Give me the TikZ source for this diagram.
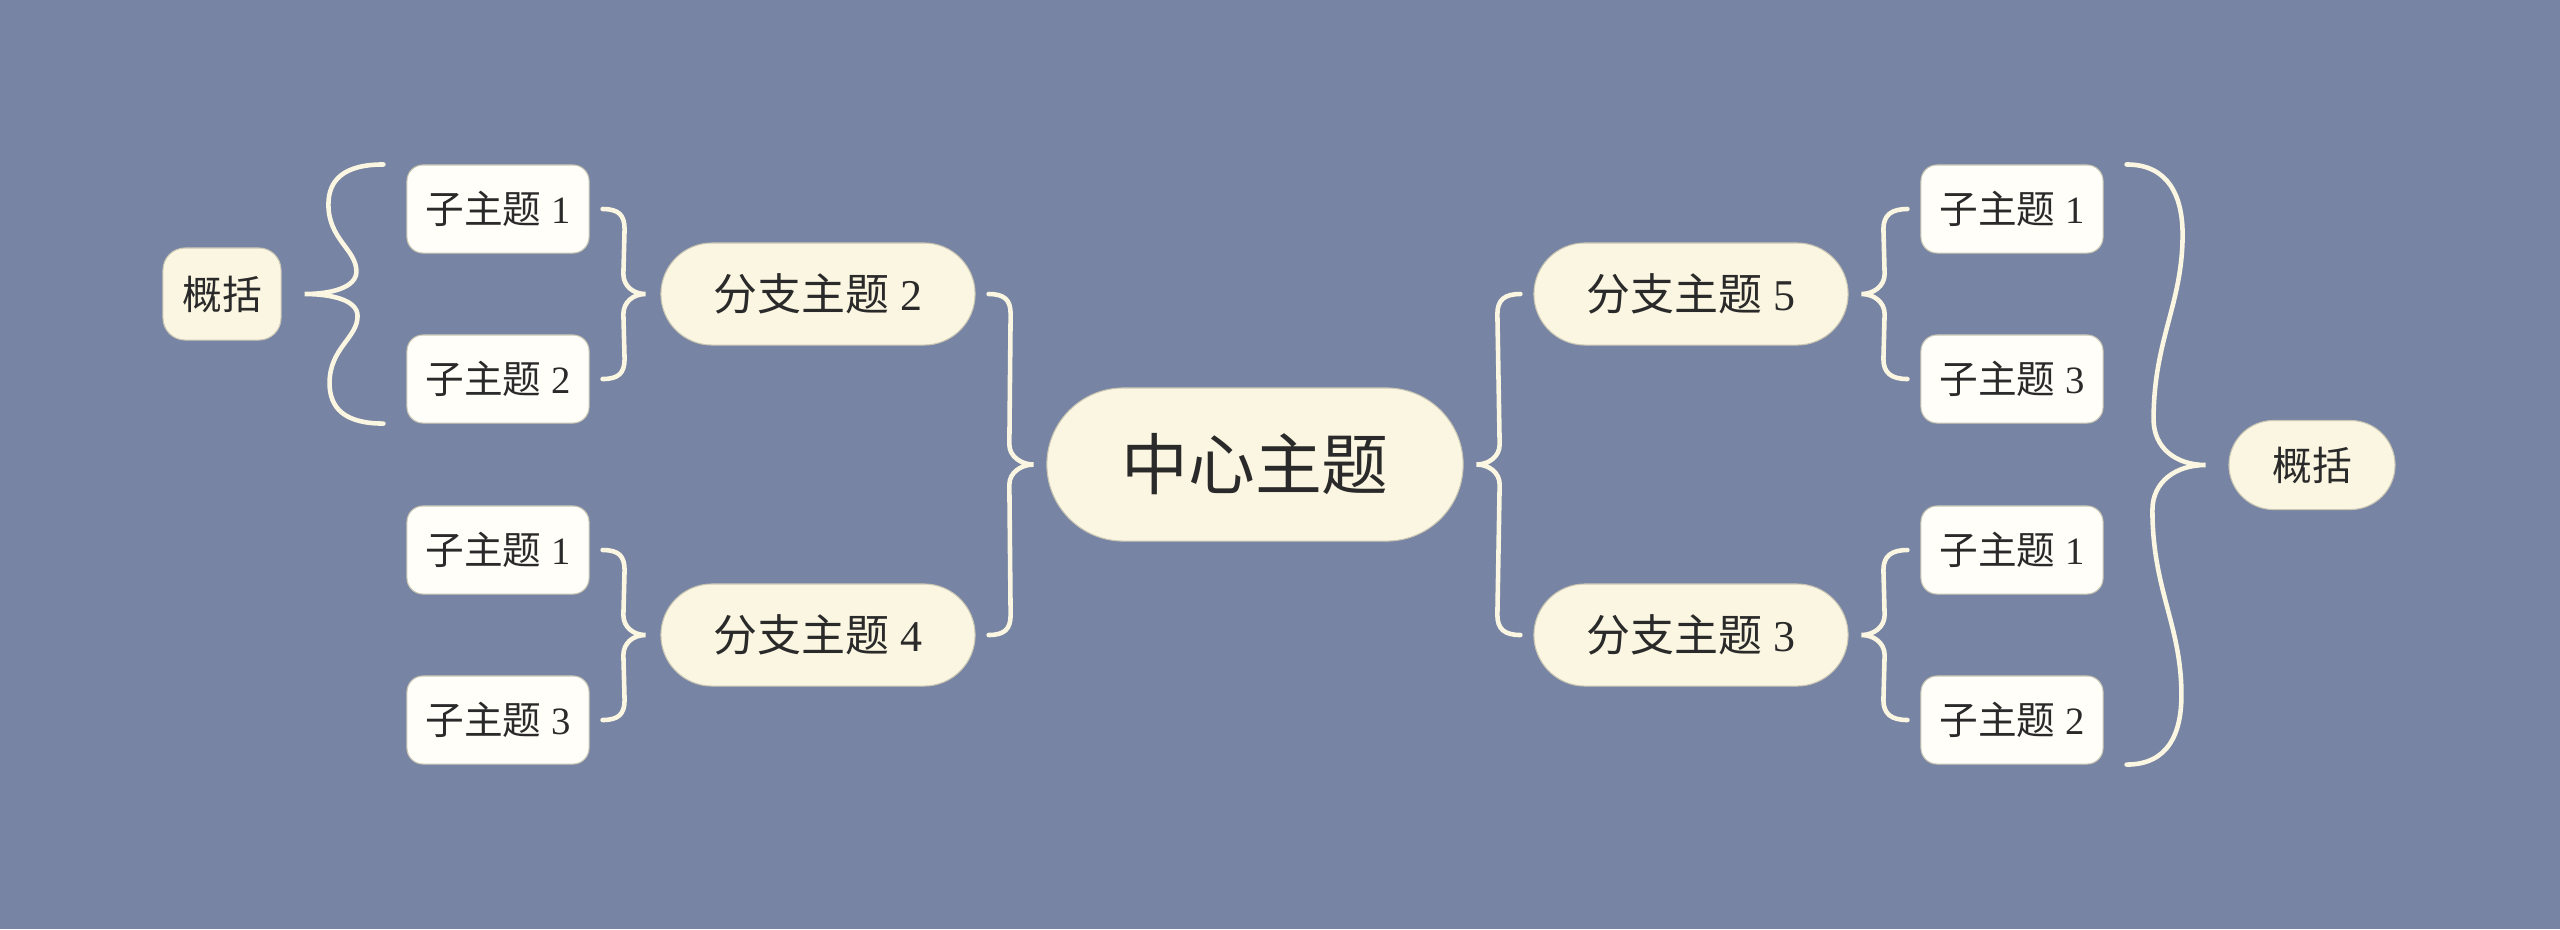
\documentclass[tikz,border=0pt]{standalone}
\usepackage{fontspec}
\setmainfont{Liberation Serif}
\newfontfamily\cjk{Noto Sans CJK SC}
\usetikzlibrary{calc}
\definecolor{bgblue}{HTML}{7884A3}
\definecolor{cream}{HTML}{FAF6E1}
\definecolor{paper}{HTML}{FFFEF8}
\definecolor{ink}{HTML}{2A2A2A}
\definecolor{rim}{HTML}{C9C6B4}
\begin{document}
\begin{tikzpicture}[x=0.01cm, y=-0.01cm,
    subbox/.style={draw=rim, line width=0.3pt, fill=paper, text=ink, inner sep=0pt,
        rounded corners=0.16cm, minimum width=1.82cm, minimum height=0.88cm,
        font=\fontsize{11}{13}\selectfont},
    branchbox/.style={draw=rim, line width=0.3pt, fill=cream, text=ink, inner sep=0pt,
        rounded corners=0.51cm, minimum width=3.14cm, minimum height=1.02cm,
        font=\fontsize{12.5}{15}\selectfont},
    bline/.style={draw=cream, line width=1.3pt, line cap=round}]
    \useasboundingbox [fill=bgblue] (0,0) rectangle (2560,929);
    % centre
    \node [draw=rim, line width=0.3pt, fill=cream, text=ink, inner sep=0pt, rounded corners=0.765cm,
        minimum width=4.16cm, minimum height=1.53cm, font=\fontsize{19}{23}\selectfont\cjk] (c) at (1255,464.5) {中心主题};
    % branches
    \node [branchbox] (b2) at (818,294) {{\cjk 分支主题} 2};
    \node [branchbox] (b4) at (818,635) {{\cjk 分支主题} 4};
    \node [branchbox] (b5) at (1691,294) {{\cjk 分支主题} 5};
    \node [branchbox] (b3) at (1691,635) {{\cjk 分支主题} 3};
    % sub topics, left
    \node [subbox] (l1) at (498,209) {{\cjk 子主题} 1};
    \node [subbox] (l2) at (498,379) {{\cjk 子主题} 2};
    \node [subbox] (l3) at (498,550) {{\cjk 子主题} 1};
    \node [subbox] (l4) at (498,720) {{\cjk 子主题} 3};
    % sub topics, right
    \node [subbox] (r1) at (2012,209) {{\cjk 子主题} 1};
    \node [subbox] (r2) at (2012,379) {{\cjk 子主题} 3};
    \node [subbox] (r3) at (2012,550) {{\cjk 子主题} 1};
    \node [subbox] (r4) at (2012,720) {{\cjk 子主题} 2};
    % summaries
    \node [draw=rim, line width=0.3pt, fill=cream, text=ink, inner sep=0pt, rounded corners=0.22cm,
        minimum width=1.18cm, minimum height=0.92cm, font=\fontsize{11.3}{13}\selectfont\cjk] (sumL) at (222,294) {概括};
    \node [draw=rim, line width=0.3pt, fill=cream, text=ink, inner sep=0pt, rounded corners=0.445cm,
        minimum width=1.66cm, minimum height=0.89cm, font=\fontsize{11.3}{13}\selectfont\cjk] (sumR) at (2312,465) {概括};
    % centre to branches
    \draw [bline] ($(b2.east)+(13,0)$) .. controls +(16,0) and +(0,-14) .. ++(22,20)
        -- ($(c.west)+(-37,-20)$) .. controls +(0,12) and +(-12,0) .. ($(c.west)+(-13,0)$)
        .. controls +(-12,0) and +(0,-12) .. ++(-24,20)
        -- ($(b4.east)+(35,-20)$) .. controls +(0,14) and +(16,0) .. ($(b4.east)+(13,0)$);
    \draw [bline] ($(b5.west)+(-13,0)$) .. controls +(-16,0) and +(0,-14) .. ++(-23,20)
        -- ($(c.east)+(36,-20)$) .. controls +(0,12) and +(12,0) .. ($(c.east)+(13,0)$)
        .. controls +(12,0) and +(0,-12) .. ++(23,20)
        -- ($(b3.west)+(-36,-20)$) .. controls +(0,14) and +(-16,0) .. ($(b3.west)+(-13,0)$);
    % branches to sub topics, left
    \draw [bline] ($(l1.east)+(13,0)$) .. controls +(16,0) and +(0,-14) .. ++(22,20)
        -- ($(b2.west)+(-37,-20)$) .. controls +(0,12) and +(-12,0) .. ($(b2.west)+(-15,0)$)
        .. controls +(-12,0) and +(0,-12) .. ++(-22,20)
        -- ($(l2.east)+(35,-20)$) .. controls +(0,14) and +(16,0) .. ($(l2.east)+(13,0)$);
    \draw [bline] ($(l3.east)+(13,0)$) .. controls +(16,0) and +(0,-14) .. ++(22,20)
        -- ($(b4.west)+(-37,-20)$) .. controls +(0,12) and +(-12,0) .. ($(b4.west)+(-15,0)$)
        .. controls +(-12,0) and +(0,-12) .. ++(-22,20)
        -- ($(l4.east)+(35,-20)$) .. controls +(0,14) and +(16,0) .. ($(l4.east)+(13,0)$);
    % branches to sub topics, right
    \draw [bline] ($(r1.west)+(-13,0)$) .. controls +(-16,0) and +(0,-14) .. ++(-24,20)
        -- ($(b5.east)+(36,-20)$) .. controls +(0,12) and +(12,0) .. ($(b5.east)+(13,0)$)
        .. controls +(12,0) and +(0,-12) .. ++(23,20)
        -- ($(r2.west)+(-37,-20)$) .. controls +(0,14) and +(-16,0) .. ($(r2.west)+(-13,0)$);
    \draw [bline] ($(r3.west)+(-13,0)$) .. controls +(-16,0) and +(0,-14) .. ++(-24,20)
        -- ($(b3.east)+(36,-20)$) .. controls +(0,12) and +(12,0) .. ($(b3.east)+(13,0)$)
        .. controls +(12,0) and +(0,-12) .. ++(23,20)
        -- ($(r4.west)+(-37,-20)$) .. controls +(0,14) and +(-16,0) .. ($(r4.west)+(-13,0)$);
    % summary braces
    \draw [bline] ($(l1.north west)+(-23,0)$) .. controls +(-39,0) and +(0,-25) .. ++(-55,40)
        .. controls +(0,35) and +(0,-22) .. ++(28,67)
        .. controls +(0,16) and +(27,0) .. ($(sumL.east)+(23,0)$)
        .. controls +(27,0) and +(0,-16) .. ++(53,22)
        .. controls +(0,22) and +(0,-35) .. ++(-28,67)
        .. controls +(0,25) and +(-39,0) .. ($(l2.south west)+(-23,0)$);
    \draw [bline] ($(r1.north east)+(23,0)$) .. controls +(42,0) and +(0,-38) .. ++(56,70)
        .. controls +(0,70) and +(0,-80) .. ++(-29,185)
        .. controls +(0,28) and +(-30,0) .. ($(sumR.west)+(-23,0)$)
        .. controls +(-30,0) and +(0,-28) .. ++(-53,45)
        .. controls +(0,80) and +(0,-70) .. ++(29,185)
        .. controls +(0,38) and +(42,0) .. ($(r4.south east)+(23,0)$);
\end{tikzpicture}
\end{document}
